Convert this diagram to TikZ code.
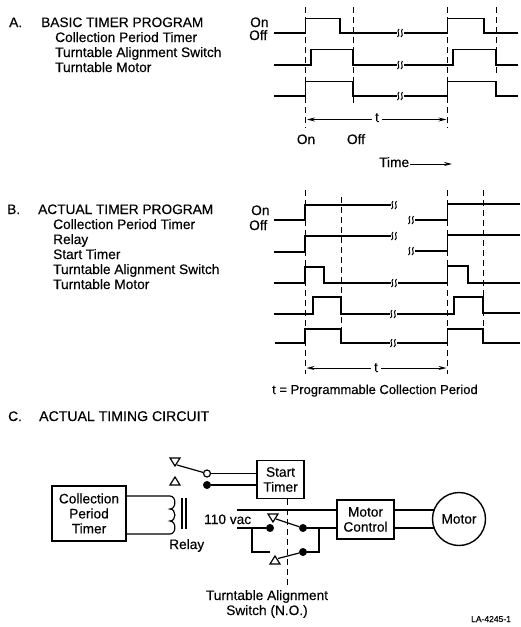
\documentclass[tikz,border=0pt]{standalone}
\usepackage{fontspec}
\setmainfont{Liberation Sans}[FakeBold=0.3]
\usetikzlibrary{arrows.meta,calc}
\newcommand{\fs}{\fontsize{13.7}{15}\selectfont}
\tikzset{
  lbl/.style={inner sep=0pt,anchor=base west,font=\fs},
  clbl/.style={inner sep=0pt,anchor=base,font=\fs},
  wave/.style={line width=1.4pt,line join=miter},
  guide/.style={line width=0.9pt,dash pattern=on 6pt off 4pt},
  dim/.style={line width=1pt,-{Stealth[length=8pt,width=4pt]}},
  wire/.style={line width=1.2pt},
  blockbox/.style={draw,line width=1.4pt,align=center,inner sep=0pt,font=\fs},
  dotf/.style={circle,fill=black,draw=black,inner sep=0pt,minimum size=7.5pt},
  doto/.style={circle,fill=white,draw=black,line width=1.2pt,inner sep=0pt,minimum size=7pt},
  tridown/.pic={\draw[line width=1.2pt,fill=white,line join=miter] (-5,-4)--(5,-4)--(0,4)--cycle;},
  triup/.pic={\draw[line width=1.2pt,fill=white,line join=miter] (-5,4)--(5,4)--(0,-4)--cycle;},
  zz/.pic={\fill[white] (-3.5,-2)rectangle(3.5,2);
    \draw[line width=1pt] (-1,-4) .. controls (-4,-1.5) and (1,1.5) .. (-2.5,4);
    \draw[line width=1pt] (2.5,-4) .. controls (-0.5,-1.5) and (4.5,1.5) .. (1,4);},
}
\begin{document}
\begin{tikzpicture}[x=1pt,y=-1pt]
\useasboundingbox (0,0) rectangle (520,627);
% Section A text
\node[lbl] (aA) at (9,27) {A.};
\node[lbl] (aT) at (41,27) {BASIC TIMER PROGRAM};
\node[lbl] (a1) at (55,42) {Collection Period Timer};
\node[lbl] (a2) at (55,57) {Turntable Alignment Switch};
\node[lbl] (a3) at (55,72) {Turntable Motor};
\node[lbl] (aOn) at (250,27) {On};
\node[lbl] (aOff) at (249,40) {Off};
% Section A guides
\foreach \x/\b in {305.7/128,353/106,447.7/128,496/76}
  \draw[guide] (\x,7) -- (\x,\b);
% Section A waves
\draw[wave] (274,33)--(305.7,33)--(305.7,18.5)--(340,18.5)--(340,33)--(447.7,33)--(447.7,18.5)--(484,18.5)--(484,33)--(518,33);
\draw[wave] (274,65)--(311,65)--(311,49.5)--(353,49.5)--(353,65)--(453,65)--(453,49.5)--(496,49.5)--(496,65)--(518,65);
\draw[wave] (274,96)--(305.7,96)--(305.7,81.5)--(353,81.5)--(353,96)--(447.7,96)--(447.7,81.5)--(496,81.5)--(496,96)--(518,96);
\pic at (400,33) {zz};
\pic at (400,65) {zz};
\pic at (400,96) {zz};
% Section A dimension
\node[clbl] (at) at (377,122) {t};
\coordinate (aL) at (307,119.5);
\coordinate (aR) at (446.5,119.5);
\draw[dim] (at.west |- aL) ++(-3,0) -- (aL);
\draw[dim] (at.east |- aR) ++(3,0) -- (aR);
\node[clbl] (aOn2) at (306,144) {On};
\node[clbl] (aOff2) at (356,144) {Off};
\node[lbl] (aTime) at (379,167) {Time};
\coordinate (aTe) at (452,164);
\draw[dim] (aTime.east |- aTe) ++(1,0) -- (aTe);
% Section B text
\node[lbl] (bB) at (7,214) {B.};
\node[lbl] (bT) at (38,214) {ACTUAL TIMER PROGRAM};
\node[lbl] (b1) at (53,229) {Collection Period Timer};
\node[lbl] (b2) at (53,244) {Relay};
\node[lbl] (b3) at (53,259) {Start Timer};
\node[lbl] (b4) at (53,274) {Turntable Alignment Switch};
\node[lbl] (b5) at (53,289) {Turntable Motor};
\node[lbl] (bOn) at (251,215) {On};
\node[lbl] (bOff) at (249,230) {Off};
% Section B guides
\foreach \x/\a/\b in {305/190/374,341/197/329,447.7/190/374,483/190/333}
  \draw[guide] (\x,\a) -- (\x,\b);
% Section B waves
\draw[wave] (274,220)--(305,220)--(305,205)--(392,205);
\draw[wave] (413,220)--(447.7,220)--(447.7,204)--(520,204);
\draw[wave] (274,252)--(305,252)--(305,236)--(392,236);
\draw[wave] (413,251)--(447.7,251)--(447.7,235)--(520,235);
\pic at (394,205) {zz};
\pic at (394,236) {zz};
\pic at (411,220) {zz};
\pic at (411,251) {zz};
\draw[wave] (274,283)--(305,283)--(305,267)--(324,267)--(324,283)--(447.7,283)--(447.7,266)--(468,266)--(468,283)--(520,283);
\draw[wave] (274,314)--(313,314)--(313,297)--(341,297)--(341,314)--(454,314)--(454,297)--(483,297)--(483,313)--(520,313);
\draw[wave] (275,343)--(305,343)--(305,329)--(341,329)--(341,343)--(447.7,343)--(447.7,329)--(483,329)--(483,343)--(520,343);
\pic at (394,283) {zz};
\pic at (393,314) {zz};
\pic at (393,343) {zz};
% Section B dimension
\node[clbl] (bt) at (376,372) {t};
\coordinate (bL) at (306.5,368);
\coordinate (bR) at (446.5,368);
\draw[dim] (bt.west |- bL) ++(-3,0) -- (bL);
\draw[dim] (bt.east |- bR) ++(3,0) -- (bR);
\node[lbl,font=\fontsize{13}{15}\selectfont] (bNote) at (272,394) {t = Programmable Collection Period};
% Section C text
\node[lbl] (cC) at (8,421) {C.};
\node[lbl,font=\fontsize{14.1}{15}\selectfont] (cT) at (39,421) {ACTUAL TIMING CIRCUIT};
% Circuit blocks
\node[blockbox,minimum width=74pt,minimum height=55pt] (cpt) at (89,513.5) {Collection\\Period\\Timer};
\node[blockbox,minimum width=47pt,minimum height=38pt] (st) at (280.5,479.5) {Start\\Timer};
\node[blockbox,minimum width=57pt,minimum height=39pt] (mc) at (365.5,519.5) {Motor\\Control};
\node[blockbox,circle,minimum size=53pt] (mot) at (459,519) {Motor};
% Relay coil
\coordinate (c1) at (170,496);
\coordinate (c2) at (170,534);
\draw[wire] (c1 -| cpt.east) -- (c1)
  .. controls (176.5,496) and (176.5,509) .. (170,509)
  .. controls (176.5,509) and (176.5,521) .. (170,521)
  .. controls (176.5,521) and (176.5,534) .. (c2) -- (c2 -| cpt.east);
\coordinate (k1) at (182,498); \coordinate (k1b) at (182,529);
\coordinate (k2) at (186,498); \coordinate (k2b) at (186,529);
\draw[wire] (k1)--(k1b);
\draw[wire] (k2)--(k2b);
\node[lbl] (rel) at (169,549) {Relay};
% Relay contacts
\node[doto] (ro) at (207,473.5) {};
\node[dotf] (rf) at (207,485) {};
\coordinate (rt1) at (175,462);
\coordinate (rt2) at (175,481);
\draw[wire] (rt1)++(2,3) -- (ro);
\pic at (rt1) {tridown};
\pic at (rt2) {triup};
\draw[wire] (ro) -- (ro -| st.west);
\draw[wire] (rf) -- (rf -| st.west);
% Alignment switch
\node[lbl] (vac) at (204,524) {110 vac};
\coordinate (l1) at (237,510);
\coordinate (l2) at (237,528);
\coordinate (j1) at (252,528);
\coordinate (j1e) at (270,552);
\node[dotf] (sl) at (270,528) {};
\node[dotf] (sr1) at (303,528) {};
\node[dotf] (sr2) at (303,552) {};
\coordinate (t1) at (273,518);
\coordinate (t2) at (275,560);
\coordinate (j2) at (319,528);
\draw[wire] (l1) -- (l1 -| mc.west);
\draw[wire] (l2) -- (sl);
\draw[wire] (j1) |- (j1e);
\draw[wire] (sr1) -- (sr1 -| mc.west);
\draw[wire] (j2) |- (sr2);
\draw[wire] (t1)++(3,1) -- (sr1);
\draw[wire] (t2)++(3,-1.5) -- (sr2);
\pic at (t1) {tridown};
\pic at (t2) {triup};
\draw[guide] (st.south -| 287,0) -- (287,586);
% Motor connections
\coordinate (m1) at (433.5,510);
\coordinate (m2) at (433.5,528);
\draw[wire] (m1 -| mc.east) -- (m1);
\draw[wire] (m2 -| mc.east) -- (m2);
% Bottom labels
\node[clbl] (sw1) at (267,600) {Turntable Alignment};
\node[clbl] (sw2) at (267,615) {Switch (N.O.)};
\node[lbl,font=\fontsize{8.5}{10}\selectfont] (fig) at (471,622) {LA-4245-1};
\end{tikzpicture}
\end{document}
